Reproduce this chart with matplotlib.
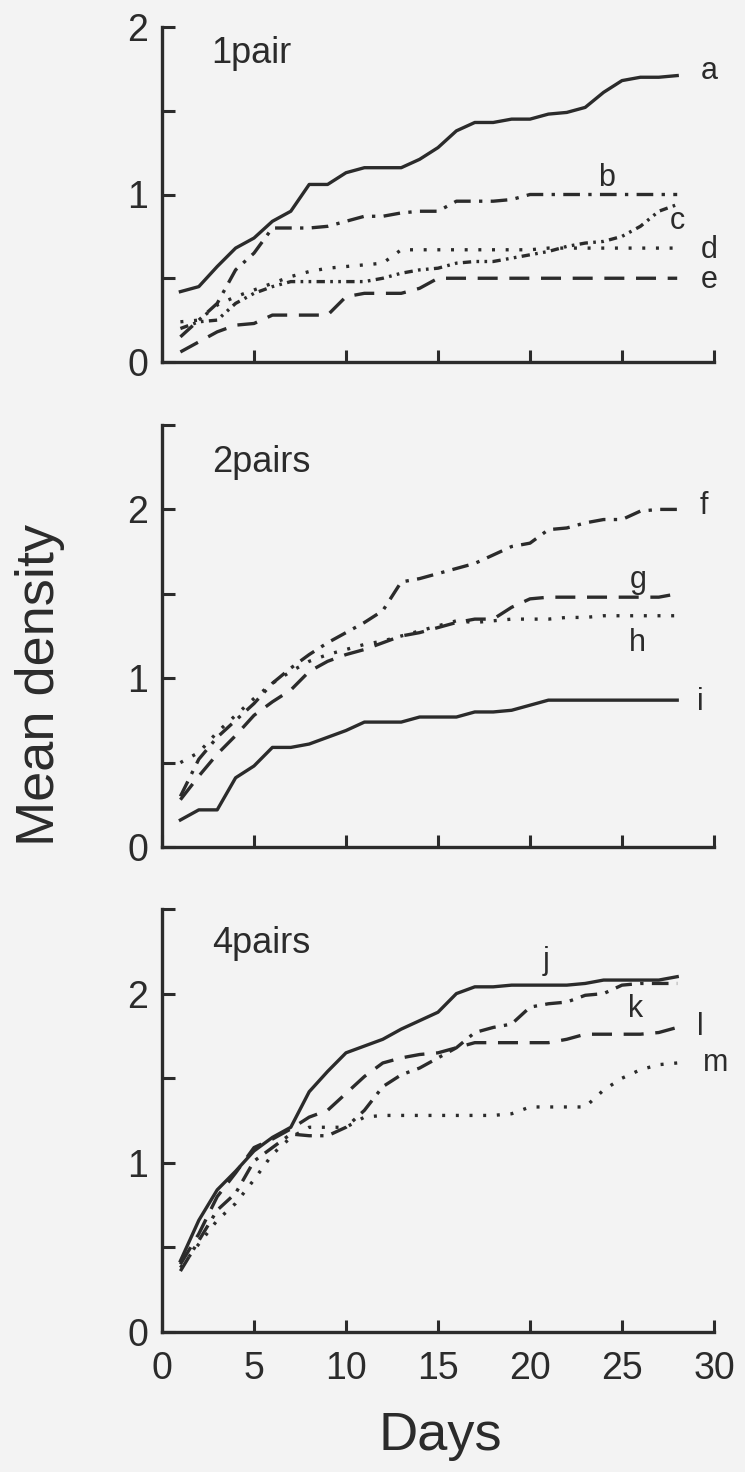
import numpy as np
import matplotlib
matplotlib.use("Agg")
import matplotlib.pyplot as plt

# 日数 (1..28日)
days = list(range(1, 29))

# 1pair
a = [0.42, 0.45, 0.57, 0.68, 0.74, 0.84, 0.90, 1.06, 1.06, 1.13, 1.16, 1.16, 1.16, 1.21,
     1.28, 1.38, 1.43, 1.43, 1.45, 1.45, 1.48, 1.49, 1.52, 1.61, 1.68, 1.70, 1.70, 1.71]
b = [0.15, 0.25, 0.35, 0.55, 0.65, 0.80, 0.80, 0.80, 0.81, 0.84, 0.87, 0.87, 0.89, 0.90,
     0.90, 0.96, 0.96, 0.96, 0.97, 1.00, 1.00, 1.00, 1.00, 1.00, 1.00, 1.00, 1.00, 1.00]
c = [0.20, 0.24, 0.25, 0.35, 0.41, 0.45, 0.48, 0.48, 0.48, 0.48, 0.48, 0.50, 0.53, 0.55,
     0.56, 0.59, 0.60, 0.60, 0.62, 0.64, 0.66, 0.69, 0.71, 0.72, 0.75, 0.81, 0.90, 0.94]
d = [0.24, 0.25, 0.34, 0.39, 0.43, 0.47, 0.51, 0.54, 0.56, 0.57, 0.58, 0.59, 0.67, 0.67,
     0.67, 0.67, 0.67, 0.67, 0.67, 0.67, 0.68, 0.68, 0.68, 0.68, 0.68, 0.68, 0.68, 0.68]
e = [0.06, 0.12, 0.18, 0.22, 0.23, 0.28, 0.28, 0.28, 0.28, 0.39, 0.41, 0.41, 0.41, 0.44,
     0.50, 0.50, 0.50, 0.50, 0.50, 0.50, 0.50, 0.50, 0.50, 0.50, 0.50, 0.50, 0.50, 0.50]

# 2pairs
f = [0.30, 0.52, 0.65, 0.75, 0.85, 0.97, 1.06, 1.14, 1.21, 1.27, 1.33, 1.40, 1.57, 1.59,
     1.62, 1.65, 1.68, 1.73, 1.78, 1.80, 1.88, 1.89, 1.92, 1.94, 1.94, 1.99, 2.00, 2.00]
g = [0.28, 0.42, 0.55, 0.66, 0.78, 0.86, 0.93, 1.04, 1.10, 1.14, 1.17, 1.21, 1.25, 1.27,
     1.30, 1.33, 1.35, 1.35, 1.42, 1.47, 1.48, 1.48, 1.48, 1.48, 1.48, 1.48, 1.48, 1.50]
h = [0.50, 0.56, 0.68, 0.78, 0.88, 0.97, 1.04, 1.10, 1.14, 1.17, 1.20, 1.22, 1.25, 1.28,
     1.31, 1.34, 1.33, 1.34, 1.35, 1.35, 1.35, 1.36, 1.36, 1.37, 1.37, 1.37, 1.37, 1.37]
i = [0.16, 0.22, 0.22, 0.41, 0.48, 0.59, 0.59, 0.61, 0.65, 0.69, 0.74, 0.74, 0.74, 0.77,
     0.77, 0.77, 0.80, 0.80, 0.81, 0.84, 0.87, 0.87, 0.87, 0.87, 0.87, 0.87, 0.87, 0.87]

# 4pairs
j = [0.42, 0.66, 0.84, 0.95, 1.07, 1.15, 1.21, 1.42, 1.54, 1.65, 1.69, 1.73, 1.79, 1.84,
     1.89, 2.00, 2.04, 2.04, 2.05, 2.05, 2.05, 2.05, 2.06, 2.08, 2.08, 2.08, 2.08, 2.10]
k = [0.36, 0.54, 0.72, 0.82, 1.01, 1.09, 1.17, 1.16, 1.16, 1.21, 1.31, 1.45, 1.52, 1.56,
     1.62, 1.68, 1.77, 1.80, 1.82, 1.92, 1.94, 1.95, 1.99, 2.00, 2.05, 2.06, 2.06, 2.06]
l = [0.40, 0.58, 0.80, 0.94, 1.09, 1.14, 1.20, 1.27, 1.31, 1.41, 1.51, 1.59, 1.62, 1.64,
     1.65, 1.68, 1.71, 1.71, 1.71, 1.71, 1.71, 1.73, 1.76, 1.76, 1.76, 1.76, 1.77, 1.80]
m = [0.38, 0.52, 0.66, 0.76, 0.90, 1.05, 1.15, 1.21, 1.21, 1.21, 1.27, 1.28, 1.28, 1.28,
     1.28, 1.28, 1.28, 1.28, 1.29, 1.33, 1.33, 1.33, 1.33, 1.43, 1.50, 1.55, 1.58, 1.59]

panel_titles = ["1pair", "2pairs", "4pairs"]
x_ticks = [0, 5, 10, 15, 20, 25, 30]

solid = "-"
dashdot = (0, (5, 2.5, 1, 2.5))
dashdotdot = (0, (2.5, 1.6, 0.8, 1.6, 0.8, 1.6))
dotted = (0, (0.9, 3.2))
dashed = (0, (6, 3.5))

panels = [
    [(a, solid, "a", 29.3, 1.74), (b, dashdot, "b", 23.7, 1.10), (c, dashdotdot, "c", 27.6, 0.84),
     (d, dotted, "d", 29.3, 0.67), (e, dashed, "e", 29.3, 0.49)],
    [(f, dashdot, "f", 29.2, 2.02), (g, dashed, "g", 25.4, 1.58), (h, dotted, "h", 25.4, 1.21),
     (i, solid, "i", 29.1, 0.86)],
    [(j, solid, "j", 20.7, 2.19), (k, dashdot, "k", 25.3, 1.91), (l, dashed, "l", 29.1, 1.80),
     (m, dotted, "m", 29.4, 1.59)],
]

plt.rcParams['font.family'] = ['Liberation Sans', 'DejaVu Sans']
ink = "#2b2b2b"
bg = "#f3f3f3"

fig = plt.figure(figsize=(7.45, 14.72), dpi=100, facecolor=bg)

W, H = 745.0, 1472.0
left, right = 162, 714
boxes = [(27, 362, 2.0), (425, 847, 2.5), (909, 1332, 2.5)]  # top, bottom (px), ymax
title_y = [1.785, 2.22, 2.24]

for n, (top, bottom, ymax) in enumerate(boxes):
    ax = fig.add_axes([left / W, 1 - bottom / H, (right - left) / W, (bottom - top) / H])
    ax.set_facecolor(bg)
    for vals, ls, name, lx, ly in panels[n]:
        ax.plot(days, vals, color=ink, linestyle=ls, linewidth=2.4)
        ax.text(lx, ly, name, fontsize=22, color=ink, ha="left", va="center")
    ax.text(2.7, title_y[n], panel_titles[n], fontsize=26, color=ink, ha="left", va="baseline")

    ax.set_xlim(0, 30)
    ax.set_ylim(0, ymax)
    yt = list(np.arange(0, ymax + 0.01, 0.5))
    ax.set_yticks(yt)
    ax.set_yticklabels([("%d" % v) if v == int(v) else "" for v in yt])
    ax.set_xticks(x_ticks)
    if n == 2:
        ax.set_xticklabels([str(t) for t in x_ticks])
    else:
        ax.set_xticklabels([])

    for s in ["top", "right"]:
        ax.spines[s].set_visible(False)
    for s in ["left", "bottom"]:
        ax.spines[s].set_linewidth(2.4)
        ax.spines[s].set_color(ink)
    ax.tick_params(direction="in", length=9, width=2.2, color=ink, labelcolor=ink, labelsize=27)
    ax.tick_params(axis="y", pad=10)
    ax.tick_params(axis="x", pad=14)

fig.text(40 / W, 1 - 685 / H, "Mean density", rotation=90, fontsize=39, color=ink,
         ha="center", va="center")
fig.text(440 / W, 1 - 1436 / H, "Days", fontsize=39, color=ink, ha="center", va="center")

fig.savefig("out.png", dpi=100, facecolor=bg)
